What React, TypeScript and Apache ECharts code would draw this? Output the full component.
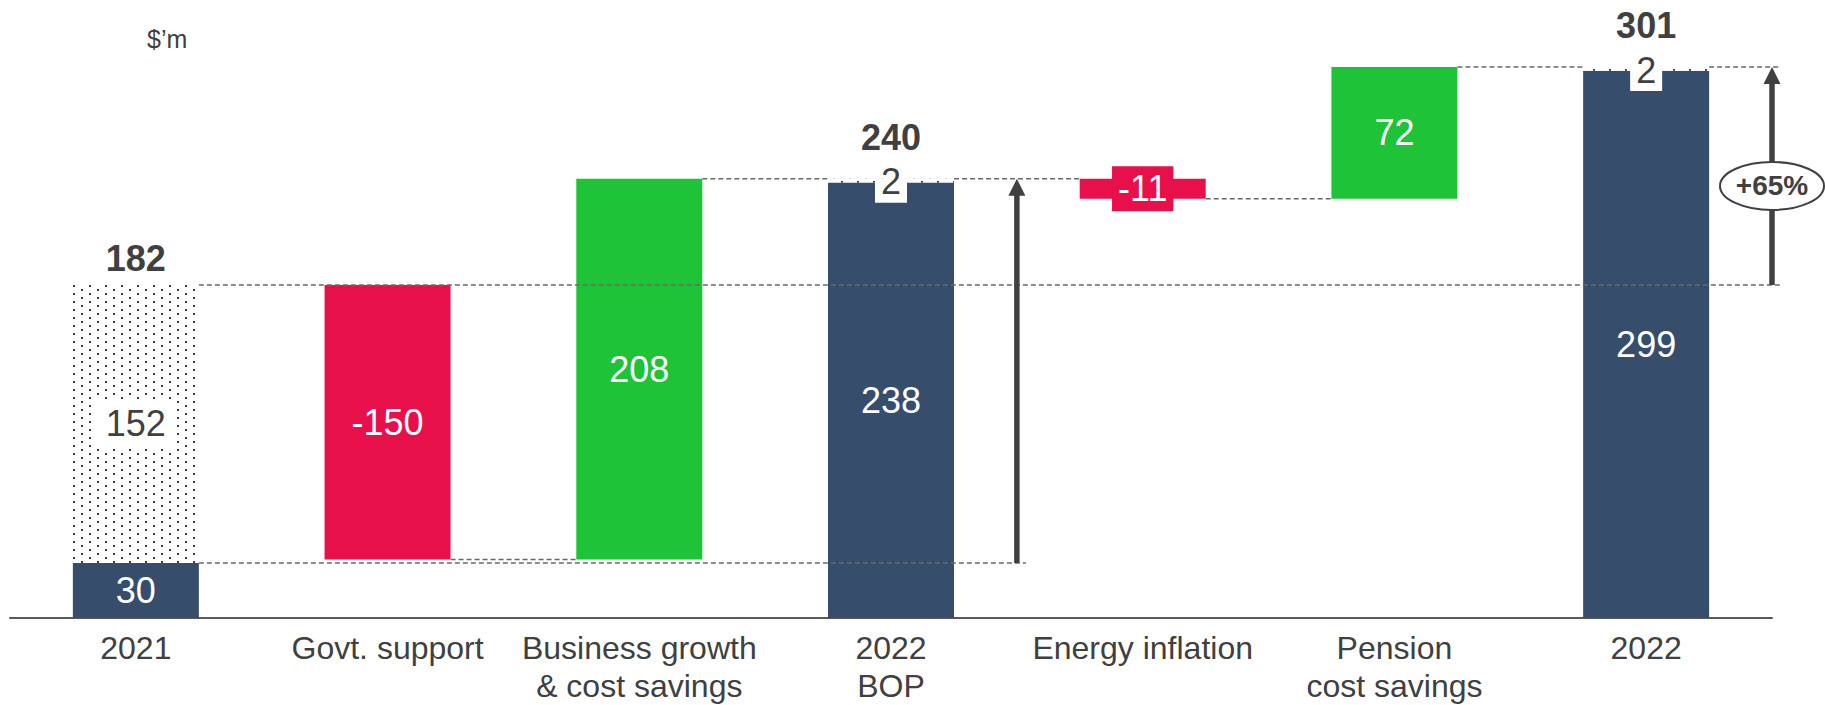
import React, { useEffect, useRef } from "react";
import * as echarts from "echarts";

const categories = [
  "2021",
  "Govt. support",
  "Business growth\n& cost savings",
  "2022\nBOP",
  "Energy inflation",
  "Pension\ncost savings",
  "2022",
];
const kinds = ["total", "neg", "pos", "total", "neg", "pos", "total"];
const baseValues = [0, 32, 32, 0, 229, 229, 0];
const mainValues = [30, 150, 208, 238, 11, 72, 299];
const mainLabels = ["30", "-150", "208", "238", "-11", "72", "299"];
const otherValues: (number | null)[] = [152, null, null, 2, null, null, 2];
const totals: (number | null)[] = [182, null, null, 240, null, null, 301];
const unitLabel = "$’m";
const growthLabel = "+65%";

const FONT = "'Liberation Sans', Arial, Helvetica, sans-serif";
const NAVY = "#374D6C";
const RED = "#E8104A";
const GREEN = "#1EC337";
const TEXT = "#404040";
const BAR_W = 126;

function colorFor(kind: string) {
  if (kind === "neg") return RED;
  if (kind === "pos") return GREEN;
  return NAVY;
}

export default function App() {
  const ref = useRef<HTMLDivElement>(null);

  useEffect(() => {
    const el = ref.current!;
    const chart = echarts.init(el, null, { renderer: "svg" });

    const cv = document.createElement("canvas");
    cv.width = 16;
    cv.height = 8;
    const ctx = cv.getContext("2d")!;
    ctx.fillStyle = "#ffffff";
    ctx.fillRect(0, 0, 16, 8);
    ctx.fillStyle = "#404040";
    ctx.fillRect(1, 1, 2, 2);
    ctx.fillRect(9, 5, 2, 2);
    const dotted: any = { image: cv, repeat: "repeat" };

    const option: any = {
      animation: false,
      grid: {
        left: 10,
        right: 53,
        top: 14,
        bottom: 87,
        containLabel: false,
        outerBoundsMode: "none",
      },
      xAxis: {
        type: "category",
        data: categories,
        axisLine: { show: true, lineStyle: { color: "#595959", width: 2 } },
        axisTick: { show: false },
        axisLabel: {
          color: TEXT,
          fontSize: 32,
          lineHeight: 38,
          margin: 11,
          fontFamily: FONT,
          interval: 0,
        },
      },
      yAxis: { type: "value", min: 0, max: 330, show: false },
      series: [
        {
          type: "bar",
          stack: "w",
          barWidth: BAR_W,
          silent: true,
          itemStyle: { color: "transparent" },
          data: baseValues,
        },
        {
          type: "bar",
          stack: "w",
          barWidth: BAR_W,
          data: mainValues.map((v, i) => {
            const small = v < 20;
            return {
              value: v,
              itemStyle: { color: colorFor(kinds[i]) },
              label: small
                ? {
                    backgroundColor: colorFor(kinds[i]),
                    padding: [5, 6],
                    lineHeight: 35,
                  }
                : undefined,
            };
          }),
          label: {
            show: true,
            position: "inside",
            color: "#ffffff",
            fontSize: 36,
            fontFamily: FONT,
            formatter: (p: any) => mainLabels[p.dataIndex],
          },
        },
        {
          type: "bar",
          stack: "w",
          barWidth: BAR_W,
          data: otherValues.map((v) => {
            if (v == null) return "-";
            const small = v < 10;
            return {
              value: v,
              itemStyle: { color: dotted },
              label: small
                ? {
                    position: "insideTop",
                    distance: 0,
                    lineHeight: 6,
                    padding: [0, 6, 18, 6],
                  }
                : {
                    position: "inside",
                    lineHeight: 40,
                    padding: [5, 10],
                  },
            };
          }),
          label: {
            show: true,
            color: TEXT,
            backgroundColor: "#ffffff",
            fontSize: 36,
            fontFamily: FONT,
          },
        },
        {
          type: "scatter",
          symbolSize: 1,
          itemStyle: { color: "transparent", opacity: 1 },
          data: totals.map((v, i) => {
            if (v == null) return "-";
            const o = otherValues[i];
            return {
              value: v,
              label: { distance: o != null && o < 10 ? 23 : 8 },
            };
          }),
          label: {
            show: true,
            position: "top",
            color: TEXT,
            opacity: 1,
            fontSize: 36,
            fontWeight: "bold",
            fontFamily: FONT,
          },
        },
      ],
    };

    chart.setOption(option);

    const P = (c: number, v: number) =>
      chart.convertToPixel({ gridIndex: 0 }, [c, v]) as number[];
    const band = P(1, 0)[0] - P(0, 0)[0];
    const half = BAR_W / 2;
    const R = (c: number) => P(c, 0)[0] + half;
    const L = (c: number) => P(c, 0)[0] - half;
    const Y = (v: number) => P(0, v)[1];

    const arrow1X = P(3, 0)[0] + band * 0.5;
    const arrow2X = P(6, 0)[0] + band * 0.5;

    const t0 = totals[0] as number;
    const t3 = totals[3] as number;
    const t6 = totals[6] as number;
    const afterGovt = baseValues[1];
    const afterEnergy = baseValues[4];

    const segs: [number, number, number][] = [
      [t0, R(0), arrow2X + 9],
      [mainValues[0], R(0), arrow1X + 9],
      [afterGovt, R(1), L(2)],
      [t3, R(2), L(3)],
      [t3, R(3), L(4)],
      [afterEnergy, R(4), L(5)],
      [t6, R(5), L(6)],
      [t6, R(6), arrow2X + 9],
    ];

    const graphics: any[] = segs.map(([v, x1, x2]) => ({
      type: "line",
      z: 100,
      silent: true,
      shape: { x1, y1: Y(v), x2, y2: Y(v) },
      style: { stroke: "#6a6a6a", lineWidth: 1.5, lineDash: [5, 3] },
    }));

    const arrow = (x: number, fromV: number, toV: number) => {
      const yb = Y(fromV);
      const yt = Y(toV);
      return [
        {
          type: "line",
          z: 101,
          silent: true,
          shape: { x1: x, y1: yb, x2: x, y2: yt + 14 },
          style: { stroke: TEXT, lineWidth: 5.5 },
        },
        {
          type: "polygon",
          z: 101,
          silent: true,
          shape: {
            points: [
              [x, yt],
              [x - 8.5, yt + 17],
              [x + 8.5, yt + 17],
            ],
          },
          style: { fill: TEXT },
        },
      ];
    };

    graphics.push(...arrow(arrow1X, mainValues[0], t3));
    graphics.push(...arrow(arrow2X, t0, t6));

    const ecy = (Y(t0) + Y(t6)) / 2 + 10;
    graphics.push({
      type: "ellipse",
      z: 102,
      silent: true,
      shape: { cx: arrow2X, cy: ecy, rx: 52, ry: 24 },
      style: { fill: "#ffffff", stroke: TEXT, lineWidth: 2 },
    });
    graphics.push({
      type: "text",
      z: 103,
      silent: true,
      x: arrow2X,
      y: ecy,
      style: {
        text: growthLabel,
        fill: TEXT,
        font: `bold 28px ${FONT}`,
        align: "center",
        verticalAlign: "middle",
      },
    });
    graphics.push({
      type: "text",
      z: 103,
      silent: true,
      x: 147,
      y: 39,
      style: {
        text: unitLabel,
        fill: TEXT,
        font: `25px ${FONT}`,
        align: "left",
        verticalAlign: "middle",
      },
    });

    chart.setOption({ graphic: graphics });

    return () => chart.dispose();
  }, []);

  return (
    <div
      ref={ref}
      style={{
        position: "fixed",
        left: 0,
        top: 0,
        width: 1825,
        height: 705,
        background: "#ffffff",
      }}
    />
  );
}
